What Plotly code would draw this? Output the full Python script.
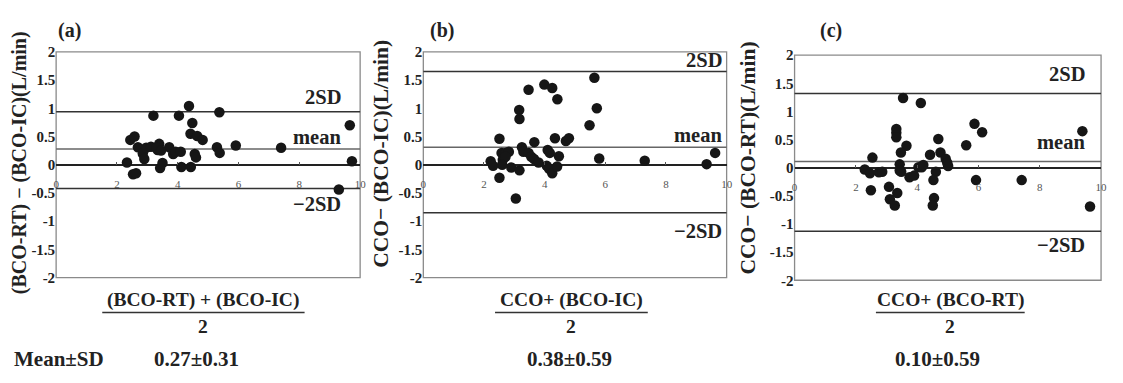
import plotly.graph_objects as go

# ---------------- data ----------------
a_x = [2.33, 2.44, 2.58, 2.53, 2.63, 2.69, 2.85, 2.90, 2.96, 3.20, 3.12, 3.39, 3.34, 3.42, 3.50,
       3.72, 3.85, 3.93, 4.10, 4.04, 4.12, 4.37, 4.43, 4.48, 4.42, 4.64, 4.82, 4.56, 4.60, 5.37,
       5.29, 5.38, 5.91, 7.40, 9.66, 9.73, 9.30, 3.30, 3.45]
a_y = [0.04, 0.44, 0.50, -0.17, -0.15, 0.31, 0.20, 0.10, 0.30, 0.87, 0.32, 0.37, 0.26, -0.06, 0.03,
       0.31, 0.19, 0.23, 0.23, 0.87, -0.04, 1.04, -0.04, 0.74, 0.55, 0.51, 0.44, 0.19, 0.13, 0.93,
       0.31, 0.21, 0.34, 0.30, 0.70, 0.06, -0.44, 0.30, 0.25]

b_x = [5.64, 3.47, 3.99, 4.25, 4.42, 3.16, 3.17, 5.72, 5.48, 2.51, 3.66, 4.34, 4.70, 4.80, 3.25,
       3.30, 3.47, 3.56, 3.65, 3.80, 4.10, 4.17, 4.47, 4.07, 4.15, 4.25, 4.41, 2.58, 2.71, 2.82,
       2.62, 2.71, 2.60, 2.22, 2.30, 2.90, 3.17, 2.51, 5.80, 7.30, 9.34, 9.62, 3.05]
b_y = [1.54, 1.33, 1.42, 1.36, 1.16, 0.97, 0.81, 1.00, 0.70, 0.46, 0.40, 0.47, 0.42, 0.47, 0.31,
       0.23, 0.21, 0.14, 0.10, 0.04, 0.26, 0.21, 0.15, -0.02, -0.07, -0.15, -0.03, 0.21, 0.21, 0.23,
       0.09, 0.14, 0.00, 0.06, -0.02, -0.05, -0.10, -0.23, 0.11, 0.07, 0.01, 0.21, -0.60]

c_x = [3.54, 4.12, 3.32, 3.32, 3.32, 3.65, 3.47, 4.69, 4.42, 4.76, 4.93, 5.01, 4.98, 2.54, 2.29,
       2.46, 2.75, 2.86, 3.43, 3.43, 3.48, 3.75, 3.90, 4.04, 4.15, 4.20, 4.61, 4.53, 2.49, 3.08,
       3.35, 3.11, 3.27, 4.55, 4.51, 5.60, 5.87, 6.12, 5.92, 7.41, 9.39, 9.64]
c_y = [1.24, 1.15, 0.69, 0.62, 0.54, 0.39, 0.27, 0.51, 0.23, 0.27, 0.16, 0.03, 0.09, 0.18, -0.03,
       -0.10, -0.08, -0.07, 0.06, -0.05, -0.07, -0.17, -0.14, 0.01, 0.01, 0.05, -0.07, -0.22, -0.40, -0.34,
       -0.45, -0.56, -0.67, -0.54, -0.67, 0.40, 0.78, 0.63, -0.22, -0.22, 0.65, -0.69]

# limit lines drawn in each panel: upper 2SD, mean, lower 2SD
a_lines = [0.94, 0.28, -0.42]
b_lines = [1.65, 0.31, -0.85]
c_lines = [1.32, 0.11, -1.13]
line_labels = ["2SD", "mean", "\u22122SD"]

panel_tags = ["(a)", "(b)", "(c)"]
y_titles = ["(BCO-RT) \u2212 (BCO-IC)(L/min)", "CCO\u2212 (BCO-IC)(L/min)", "CCO\u2212 (BCO-RT)(L/min)"]
x_numerators = ["(BCO-RT) + (BCO-IC)", "CCO+ (BCO-IC)", "CCO+ (BCO-RT)"]
x_denominator = "2"
stat_label = "Mean\u00b1SD"
stat_values = ["0.27\u00b10.31", "0.38\u00b10.59", "0.10\u00b10.59"]

x_tickvals = [0, 2, 4, 6, 8, 10]
y_tickvals = [-2, -1.5, -1, -0.5, 0, 0.5, 1, 1.5, 2]
y_ticktext = ["-2", "-1.5", "-1", "-0.5", "0", "0.5", "1", "1.5", "2"]

# ---------------- layout helpers ----------------
# the page keeps the browser's 8px body margin, so the figure is sized to fit inside it
PAGE_W, PAGE_H, M = 1123, 383, 8
W, H = PAGE_W - 2 * M, PAGE_H - 2 * M
def px(x):
    return (x - M) / W
def py(y):
    return 1 - (y - M) / H

SERIF = "Liberation Serif"
# plot boxes in page pixels: left, right, top, bottom
boxes = [(53.5, 360.0, 45.5, 281.5), (423.7, 729.5, 45.5, 281.5), (798.0, 1107.0, 49.0, 284.3)]

series = [(a_x, a_y, a_lines), (b_x, b_y, b_lines), (c_x, c_y, c_lines)]

fig = go.Figure()
layout = dict(width=W, height=H, margin=dict(l=0, r=0, t=0, b=0), autosize=False,
              paper_bgcolor="white", plot_bgcolor="white", showlegend=False,
              font=dict(family=SERIF, color="#222"))
shapes = []
annotations = []

# label geometry per panel: (x domain frac of right edge, yshift for 2SD, mean, -2SD)
label_geo = [(0.945, 2, -1, -3), (0.99, -1, -1, -5), (0.955, 6, 7, -1)]
tag_x = [67, 443, 835]
ytitle_x = [16, 381, 751]
ytitle_y = [161, 152, 156]
ytitle_size = [20, 21.5, 21.5]
frac_centers = [202, 573, 955]
frac_half = [102, 77, 75]
stat_x = [195, 571, 942]

for i, ((x0, x1, y0, y1), (xs, ys, lines)) in enumerate(zip(boxes, series)):
    n = "" if i == 0 else str(i + 1)
    xa, ya = "x" + n, "y" + n
    zero_pos = py((y0 + y1) / 2)
    layout["xaxis" + n] = dict(domain=[px(x0), px(x1)], range=[0, 10], anchor="free", position=zero_pos,
                               tickvals=x_tickvals, ticks="inside", ticklen=3, tickcolor="#555",
                               tickfont=dict(family=SERIF, size=11, color="#555"), ticklabelstandoff=11,
                               showgrid=False, zeroline=False, showline=False, fixedrange=True)
    layout["yaxis" + n] = dict(domain=[py(y1), py(y0)], range=[-2, 2], anchor=xa,
                               tickvals=y_tickvals, ticktext=y_ticktext, ticks="",
                               tickfont=dict(family=SERIF, size=15, color="#222", weight="bold"),
                               showgrid=False, zeroline=True, zerolinecolor="#222", zerolinewidth=1.6,
                               showline=False, fixedrange=True)
    fig.add_trace(go.Scatter(x=xs, y=ys, mode="markers", xaxis=xa, yaxis=ya, hoverinfo="skip",
                             marker=dict(size=10.5, color="#161616", line=dict(width=0))))
    # box
    shapes.append(dict(type="rect", xref=xa + " domain", yref=ya + " domain", x0=0, x1=1, y0=0, y1=1,
                       line=dict(color="#8a8a8a", width=1.3), layer="below"))
    fx, s_hi, s_mean, s_lo = label_geo[i]
    for j, v in enumerate(lines):
        shapes.append(dict(type="line", xref=xa + " domain", yref=ya, x0=0, x1=1, y0=v, y1=v,
                           line=dict(color="#333" if j != 1 else "#666", width=1.5), layer="below"))
        annotations.append(dict(text="<b>%s</b>" % line_labels[j], xref=xa + " domain", yref=ya,
                                x=fx, y=v, xanchor="right", yanchor="top" if j == 2 else "bottom",
                                yshift=[s_hi, s_mean, s_lo][j], showarrow=False,
                                font=dict(family=SERIF, size=20.5, color="#222")))
    # panel tag
    annotations.append(dict(text="<b>%s</b>" % panel_tags[i], xref="paper", yref="paper",
                            x=px(tag_x[i]), y=py(23), xanchor="center", yanchor="middle",
                            showarrow=False, font=dict(family=SERIF, size=20, color="#222")))
    # y title
    annotations.append(dict(text="<b>%s</b>" % y_titles[i], xref="paper", yref="paper",
                            x=px(ytitle_x[i]), y=py(ytitle_y[i]), xanchor="center", yanchor="middle",
                            textangle=-90, showarrow=False,
                            font=dict(family=SERIF, size=ytitle_size[i], color="#222")))
    # x title as a fraction
    annotations.append(dict(text="<b>%s</b>" % x_numerators[i], xref="paper", yref="paper",
                            x=px(frac_centers[i]), y=py(305), xanchor="center", yanchor="middle",
                            showarrow=False, font=dict(family=SERIF, size=19.5, color="#222")))
    shapes.append(dict(type="line", xref="paper", yref="paper",
                       x0=px(frac_centers[i] - frac_half[i]), x1=px(frac_centers[i] + frac_half[i]),
                       y0=py(318), y1=py(318), line=dict(color="#333", width=1.3)))
    annotations.append(dict(text="<b>%s</b>" % x_denominator, xref="paper", yref="paper",
                            x=px(frac_centers[i]), y=py(333), xanchor="center", yanchor="middle",
                            showarrow=False, font=dict(family=SERIF, size=19.5, color="#222")))
    annotations.append(dict(text="<b>%s</b>" % stat_values[i], xref="paper", yref="paper",
                            x=px(stat_x[i]), y=py(367), xanchor="center", yanchor="middle",
                            showarrow=False, font=dict(family=SERIF, size=21, color="#222")))

annotations.append(dict(text="<b>%s</b>" % stat_label, xref="paper", yref="paper",
                        x=px(9), y=py(367), xanchor="left", yanchor="middle",
                        showarrow=False, font=dict(family=SERIF, size=21, color="#222")))

layout["shapes"] = shapes
layout["annotations"] = annotations
fig.update_layout(**layout)
fig.write_html("out.html", config={"displayModeBar": False})
